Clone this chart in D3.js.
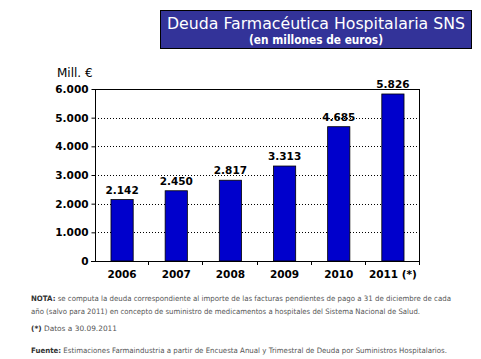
<!DOCTYPE html>
<html><head><meta charset="utf-8">
<script src="https://cdn.jsdelivr.net/npm/d3@7"></script>
<style>body{margin:0;background:#fff}svg{display:block}</style>
</head><body>
<script>
const categories = ["2006","2007","2008","2009","2010","2011 (*)"];
const values = [2142,2450,2817,3313,4685,5826];
const valueLabels = ["2.142","2.450","2.817","3.313","4.685","5.826"];
const yTicks = [0,1000,2000,3000,4000,5000,6000];
const yTickLabels = ["0","1.000","2.000","3.000","4.000","5.000","6.000"];

(function(){
const W=481,H=359;
const svg=d3.select("body").append("svg").attr("width",W).attr("height",H);
const pl=95,pr=420,pt=89,pb=261;
const x=d3.scaleBand().domain(categories).range([pl,pr]).paddingInner(0.59).paddingOuter(0.295);
const xb=d3.scaleBand().domain(categories).range([pl,pr]);
const y=d3.scaleLinear().domain([0,6000]).range([pb,pt]);

// title box
svg.append("rect").attr("x",160.5).attr("y",10.5).attr("width",311).attr("height",38)
  .attr("fill","#333399").attr("stroke","#000").attr("stroke-width",1);
svg.append("text").attr("x",316).attr("y",29).attr("text-anchor","middle")
  .attr("font-family","DejaVu Sans").attr("font-size",16).attr("fill","#fff")
  .attr("textLength",298).attr("lengthAdjust","spacingAndGlyphs")
  .text("Deuda Farmacéutica Hospitalaria  SNS");
svg.append("text").attr("x",316).attr("y",44).attr("text-anchor","middle")
  .attr("font-family","DejaVu Sans").attr("font-size",12).attr("font-weight",600).attr("fill","#fff")
  .attr("textLength",134).attr("lengthAdjust","spacingAndGlyphs")
  .text("(en millones de euros)");

svg.append("text").attr("x",57).attr("y",77).attr("font-family","DejaVu Sans").attr("font-size",12)
  .attr("fill","#000").text("Mill. €");

// gridlines
svg.append("g").selectAll("line").data(yTicks.filter(d=>d>0&&d<6000)).join("line")
  .attr("x1",pl).attr("x2",pr).attr("y1",d=>Math.round(y(d))+0.5).attr("y2",d=>Math.round(y(d))+0.5)
  .attr("stroke","#000").attr("stroke-width",1).attr("stroke-dasharray","1,2");

// bars
svg.append("g").selectAll("rect").data(values).join("rect")
  .attr("x",(d,i)=>x(categories[i])).attr("width",x.bandwidth())
  .attr("y",d=>y(d)).attr("height",d=>pb-y(d))
  .attr("fill","#0000CC").attr("stroke","#000").attr("stroke-width",0.8);

// value labels
svg.append("g").selectAll("text").data(values).join("text")
  .attr("x",(d,i)=>x(categories[i])+x.bandwidth()/2).attr("y",d=>y(d)-6)
  .attr("text-anchor","middle").attr("font-family","DejaVu Sans").attr("font-weight","bold")
  .attr("font-size",10.5).attr("fill","#000").text((d,i)=>valueLabels[i]);

// frame
svg.append("rect").attr("x",pl+0.5).attr("y",pt+0.5).attr("width",pr-pl-1).attr("height",pb-pt)
  .attr("fill","none").attr("stroke","#000").attr("stroke-width",1);

// y axis
const yAxis=d3.axisLeft(y).tickValues(yTicks).tickSize(4).tickPadding(3).tickFormat((d,i)=>yTickLabels[i]);
const gy=svg.append("g").attr("transform",`translate(${pl+0.5},0)`).call(yAxis);
gy.select(".domain").remove();
gy.selectAll("text").attr("font-family","DejaVu Sans").attr("font-weight","bold").attr("font-size",10.5).attr("fill","#000");

// x axis ticks between categories
const gx=svg.append("g");
gx.selectAll("line").data(categories).join("line")
  .attr("x1",d=>Math.round(xb(d)+xb.bandwidth())-0.5)
  .attr("x2",d=>Math.round(xb(d)+xb.bandwidth())-0.5)
  .attr("y1",pb).attr("y2",pb+4).attr("stroke","#000");
svg.append("line").attr("x1",pl-4).attr("x2",pr).attr("y1",pb+0.5).attr("y2",pb+0.5).attr("stroke","#000");
gx.selectAll("text").data(categories).join("text")
  .attr("x",d=>xb(d)+xb.bandwidth()/2).attr("y",278).attr("text-anchor","middle")
  .attr("font-family","DejaVu Sans").attr("font-weight","bold").attr("font-size",10.5).attr("fill","#000")
  .text(d=>d);

// notes
const nf="DejaVu Sans", ns=7.4, col="#555";
function note(yv,bold,rest,len){
  const t=svg.append("text").attr("x",31).attr("y",yv).attr("font-family",nf).attr("font-size",ns).attr("fill",col);
  if(len) t.attr("textLength",len).attr("lengthAdjust","spacingAndGlyphs");
  if(bold) t.append("tspan").attr("font-weight","bold").attr("fill","#333").text(bold);
  t.append("tspan").text(rest);
}
note(301,"NOTA:"," se computa la deuda correspondiente al importe de las facturas pendientes de pago a 31 de diciembre de cada",420);
note(314,null,"año (salvo para 2011) en concepto de suministro de medicamentos a hospitales del Sistema Nacional de Salud.",389);
note(331,"(*)"," Datos a 30.09.2011",null);
note(353,"Fuente:"," Estimaciones Farmaindustria a partir de Encuesta Anual y Trimestral de Deuda por Suministros Hospitalarios.",416);
})();
</script>
</body></html>
